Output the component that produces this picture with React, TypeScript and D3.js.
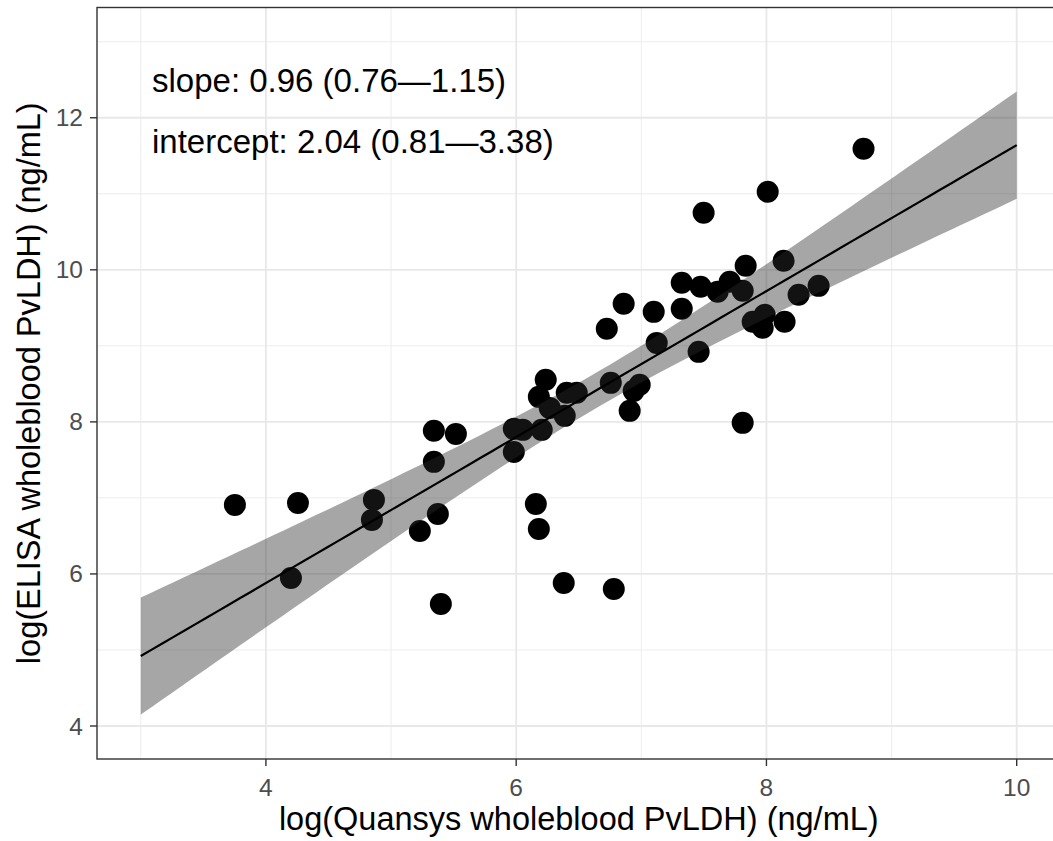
import React from "react";
import * as d3 from "d3";

// Data: log(Quansys) vs log(ELISA)
const quansys = [
  3.752, 4.256, 4.2, 4.863, 4.847, 5.23, 5.374, 5.398, 5.342, 5.518, 5.342,
  6.157, 6.181, 6.38, 6.78, 5.981, 5.981, 6.053, 6.204, 6.181, 6.236, 6.388,
  6.404, 6.484, 6.756, 6.939, 6.987, 6.907, 6.724, 6.859, 7.099, 7.123, 7.323,
  7.323, 7.474, 7.61, 7.706, 7.81, 7.834, 7.458, 7.498, 8.01, 8.776, 8.137,
  7.89, 7.986, 7.97, 8.145, 8.257, 8.417, 7.81, 6.268,
];
const elisa = [
  6.908, 6.934, 5.947, 6.974, 6.711, 6.566, 6.789, 5.605, 7.882, 7.842, 7.474,
  6.921, 6.592, 5.882, 5.803, 7.605, 7.908, 7.895, 7.895, 8.329, 8.553, 8.079,
  8.382, 8.382, 8.513, 8.408, 8.487, 8.145, 9.224, 9.553, 9.447, 9.039, 9.487,
  9.829, 9.776, 9.711, 9.842, 9.724, 10.053, 8.921, 10.75, 11.026, 11.592,
  10.118, 9.316, 9.408, 9.237, 9.316, 9.671, 9.789, 7.987, 8.184,
];

const SLOPE = 0.96;
const INTERCEPT = 2.04;
const T_CRIT = 2.01; // t quantile, df ~ 50, 95%
const FIT_RANGE = [3, 10];

const xTicks = [4, 6, 8, 10];
const xMinor = [3, 5, 7, 9];
const yTicks = [4, 6, 8, 10, 12];
const yMinor = [5, 7, 9, 11, 13];

const annotations = [
  "slope: 0.96 (0.76\u20141.15)",
  "intercept: 2.04 (0.81\u20143.38)",
];

const xTitle = "log(Quansys wholeblood PvLDH) (ng/mL)";
const yTitle = "log(ELISA wholeblood PvLDH) (ng/mL)";

const W = 1053;
const H = 841;
const left = 97;
const right = 1060.5;
const top = 7.5;
const bottom = 759;

const FONT = "'Liberation Sans', Arial, Helvetica, sans-serif";

export default function App() {
  const x = d3.scaleLinear().domain([2.65, 10.35]).range([left, right]);
  const y = d3.scaleLinear().domain([3.566, 13.45]).range([bottom, top]);

  const n = quansys.length;
  const xbar = d3.mean(quansys) as number;
  const sxx = d3.sum(quansys, (v) => (v - xbar) ** 2);
  const sse = d3.sum(quansys, (v, i) => (elisa[i] - (INTERCEPT + SLOPE * v)) ** 2);
  const s = Math.sqrt(sse / (n - 2));

  const grid = d3.range(0, 81).map((i) => FIT_RANGE[0] + ((FIT_RANGE[1] - FIT_RANGE[0]) * i) / 80);
  const band = grid.map((gx) => {
    const fit = INTERCEPT + SLOPE * gx;
    const hw = T_CRIT * s * Math.sqrt(1 / n + (gx - xbar) ** 2 / sxx);
    return { gx, lo: fit - hw, hi: fit + hw, fit };
  });
  const area = d3
    .area<{ gx: number; lo: number; hi: number }>()
    .x((d) => x(d.gx))
    .y0((d) => y(d.lo))
    .y1((d) => y(d.hi));
  const line = d3
    .line<{ gx: number; fit: number }>()
    .x((d) => x(d.gx))
    .y((d) => y(d.fit));

  return (
    <svg
      width={W}
      height={H}
      style={{ position: "absolute", left: 0, top: 0, background: "#fff" }}
      fontFamily={FONT}
    >
      <defs>
        <clipPath id="panel">
          <rect x={left} y={top} width={right - left} height={bottom - top} />
        </clipPath>
      </defs>
      <rect x={0} y={0} width={W} height={H} fill="#fff" />
      <g clipPath="url(#panel)">
        {xMinor.map((v) => (
          <line key={"xm" + v} x1={x(v)} x2={x(v)} y1={top} y2={bottom} stroke="#ebebeb" strokeWidth={0.9} />
        ))}
        {yMinor.map((v) => (
          <line key={"ym" + v} x1={left} x2={right} y1={y(v)} y2={y(v)} stroke="#ebebeb" strokeWidth={0.9} />
        ))}
        {xTicks.map((v) => (
          <line key={"xg" + v} x1={x(v)} x2={x(v)} y1={top} y2={bottom} stroke="#e8e8e8" strokeWidth={1.8} />
        ))}
        {yTicks.map((v) => (
          <line key={"yg" + v} x1={left} x2={right} y1={y(v)} y2={y(v)} stroke="#e8e8e8" strokeWidth={1.8} />
        ))}
        {quansys.map((v, i) => (
          <circle key={"p" + i} cx={x(v)} cy={y(elisa[i])} r={11} fill="#000" />
        ))}
        <path d={area(band) || ""} fill="#2a2a2a" fillOpacity={0.42} />
        <path d={line(band) || ""} fill="none" stroke="#000" strokeWidth={2.2} />
        {annotations.map((t, i) => (
          <text key={"a" + i} x={152} y={92 + i * 61} fontSize={33} fill="#000">
            {t}
          </text>
        ))}
      </g>
      <rect x={left} y={top} width={right - left} height={bottom - top} fill="none" stroke="#333" strokeWidth={1.4} />
      {xTicks.map((v) => (
        <g key={"xt" + v}>
          <line x1={x(v)} x2={x(v)} y1={bottom} y2={bottom + 7} stroke="#333" strokeWidth={1.4} />
          <text x={x(v)} y={796} textAnchor="middle" fontSize={24.5} fill="#4d4d4d">
            {v}
          </text>
        </g>
      ))}
      {yTicks.map((v) => (
        <g key={"yt" + v}>
          <line x1={left - 7} x2={left} y1={y(v)} y2={y(v)} stroke="#333" strokeWidth={1.4} />
          <text x={83} y={y(v) + 8.5} textAnchor="end" fontSize={24.5} fill="#4d4d4d">
            {v}
          </text>
        </g>
      ))}
      <text x={(left + right) / 2} y={830} textAnchor="middle" fontSize={32.5} fill="#000">
        {xTitle}
      </text>
      <text
        transform={`translate(40, ${(top + bottom) / 2}) rotate(-90)`}
        textAnchor="middle"
        fontSize={32.5}
        fill="#000"
      >
        {yTitle}
      </text>
    </svg>
  );
}
